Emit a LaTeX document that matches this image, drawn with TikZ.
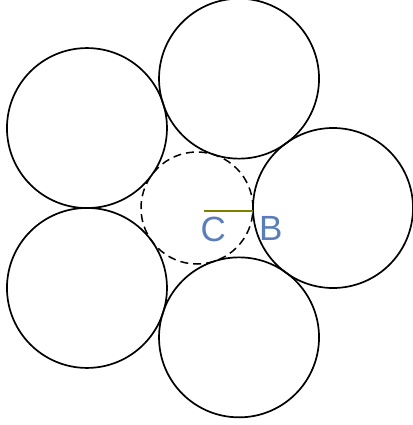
\documentclass[tikz,border=0pt]{standalone}
\usepackage{fontspec}
\setmainfont{Liberation Sans}
\usetikzlibrary{calc}
\definecolor{olivel}{RGB}{128,128,0}
\definecolor{lblue}{RGB}{91,125,185}
\begin{document}
\begin{tikzpicture}[x=1pt,y=-1pt,
  big/.style={circle,draw=black,line width=1.7pt,minimum size=160pt,inner sep=0pt},
  mid/.style={circle,draw=black,line width=1.5pt,dash pattern=on 8pt off 5pt,minimum size=112pt,inner sep=0pt},
  lbl/.style={text=lblue,font=\fontsize{35}{35}\selectfont,inner sep=0pt,anchor=base west}]
\useasboundingbox (0,0) rectangle (412,425);
\coordinate (O) at (197,208);
\node[mid] (m) at (O) {};
\node[big] (r)  at ($(O)+(0:136)$) {};
\node[big] (t)  at ($(O)+(-72:136)$) {};
\node[big] (ul) at ($(O)+(-144:136)$) {};
\node[big] (ll) at ($(O)+(144:136)$) {};
\node[big] (b)  at ($(O)+(72:136)$) {};
\coordinate (c0) at (204,210.5);
\coordinate (b0) at (253,210.5);
\draw[olivel,line width=2pt] (c0) -- (b0);
\node[lbl] (C) at (200.5,241.5) {C};
\node[lbl] (B) at (259,240.5) {B};
\end{tikzpicture}
\end{document}
